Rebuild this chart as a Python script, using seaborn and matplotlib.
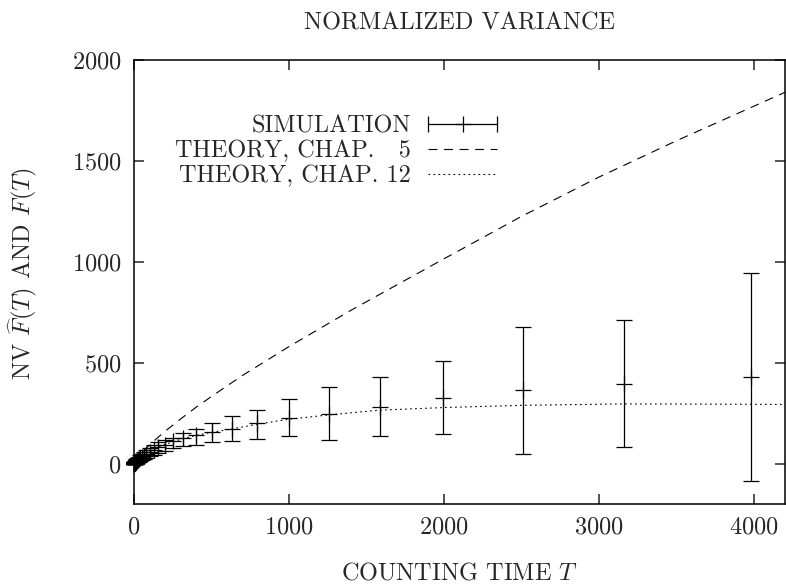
import numpy as np
import matplotlib
matplotlib.use("Agg")
import matplotlib.pyplot as plt
import seaborn as sns
from matplotlib.lines import Line2D
from matplotlib.collections import LineCollection
from matplotlib.container import ErrorbarContainer
from matplotlib.legend_handler import HandlerErrorbar

# ---------------- data ----------------
sim_T = [1, 1.26, 1.58, 2, 2.51, 3.16, 3.98, 5.01, 6.31, 7.94,
         10, 12.6, 15.8, 20, 25.1, 31.6, 39.8, 50.1, 63.1, 79.4,
         100, 126, 158, 200, 251, 316, 398, 501, 631, 794,
         1000, 1259, 1585, 1995, 2512, 3162, 3981]
sim_mean = [0.5, 0.7, 1.0, 1.3, 1.7, 2.2, 2.8, 3.6, 4.6, 5.8,
            7.3, 9.2, 11.5, 14.5, 18, 22, 27, 33, 40, 48,
            58, 68, 80, 94, 110, 127, 144, 157, 172, 200,
            226, 247, 282, 327, 363, 396, 430]
sim_low = [-4, -4, -4, -4, -4, -4, -4, -4, -4, -3,
           -2, -1, 1, 3, 6, 9, 13, 18, 24, 30,
           38, 45, 55, 61, 77, 86, 94, 105, 112, 124,
           137, 116, 137, 145, 46, 81, -88]
sim_high = [5, 5.5, 6, 6.5, 7, 8, 10, 11, 13, 15,
            17, 19, 22, 26, 30, 35, 41, 48, 56, 66,
            78, 90, 105, 119, 127, 152, 172, 201, 234, 267,
            320, 381, 431, 510, 677, 711, 945]

ch5_T = [0, 25, 50, 100, 150, 200, 300, 400, 500, 700, 1000, 1400,
         2000, 2500, 3000, 3500, 4200]
ch5_F = [0, 30, 53, 92, 127, 160, 221, 279, 333, 437, 580, 760,
         1015, 1225, 1420, 1600, 1840]

ch12_T = [0, 10, 25, 50, 100, 150, 200, 300, 400, 500, 630, 800, 1000,
          1275, 1585, 2000, 2512, 3162, 4000, 4200]
ch12_F = [0, 8, 18, 33, 58, 78, 95, 120, 140, 155, 172, 196, 220,
          243, 265, 278, 289, 296, 294, 293]

x_ticks = [0, 1000, 2000, 3000, 4000]
y_ticks = [0, 500, 1000, 1500, 2000]

title = "NORMALIZED VARIANCE"
x_label = r"COUNTING TIME $T$"
y_label = r"NV $\widehat{F}(T)$ AND $F(T)$"
lab_sim = "SIMULATION"
lab_ch5 = "THEORY, CHAP.   5"
lab_ch12 = "THEORY, CHAP. 12"

# ---------------- style ----------------
sns.set_theme(style="ticks")
plt.rcParams["font.family"] = ["cmr10", "DejaVu Serif"]
plt.rcParams["mathtext.fontset"] = "cm"
plt.rcParams["axes.unicode_minus"] = False
plt.rcParams["axes.formatter.use_mathtext"] = True
FS = 17.5

fig = plt.figure(figsize=(7.86, 5.84), dpi=100)
ax = fig.add_axes([134 / 786, 80 / 584, 651 / 786, 444 / 584])

# theory curves
sns.lineplot(x=ch5_T, y=ch5_F, ax=ax, color="black", linewidth=0.8,
             linestyle=(0, (8, 6)), sort=False, estimator=None)
sns.lineplot(x=ch12_T, y=ch12_F, ax=ax, color="black", linewidth=0.8,
             linestyle=(0, (1.5, 3)), sort=False, estimator=None)

# simulation with error bars
m = np.array(sim_mean)
yerr = [m - np.array(sim_low), np.array(sim_high) - m]
ax.errorbar(sim_T, sim_mean, yerr=yerr, fmt="+", color="black", ms=11,
            mew=0.9, elinewidth=0.9, capsize=5.8, capthick=0.9,
            clip_on=False, zorder=3)

ax.set_xlim(0, 4200)
ax.set_ylim(-200, 2000)
ax.set_xticks(x_ticks)
ax.set_yticks(y_ticks)
ax.tick_params(direction="in", length=7.5, width=1.1, top=True, right=True,
               labelsize=FS, pad=9)
ax.tick_params(axis="x", pad=9)
for s in ax.spines.values():
    s.set_linewidth(1.1)
    s.set_color("black")

ax.set_title(title, fontsize=FS, pad=22)
ax.set_xlabel(x_label, fontsize=FS, labelpad=17)
ax.set_ylabel(y_label, fontsize=FS)
ax.yaxis.set_label_coords(-0.144, 0.52)

# legend (gnuplot style: text right-aligned, sample to the right)
data_line = Line2D([], [], color="black", marker="+", ms=11, mew=0.9, ls="none")
cap = Line2D([], [], color="black", marker="|", ms=11, mew=0.9)
barcol = LineCollection([], colors="black", linewidths=0.9)
sim_proxy = ErrorbarContainer((data_line, (cap, cap), (barcol,)),
                              has_xerr=True, has_yerr=False, label=lab_sim)
h5 = Line2D([], [], color="black", lw=0.8, ls=(0, (8, 6)))
h12 = Line2D([], [], color="black", lw=0.8, ls=(0, (1.5, 3)))
leg = ax.legend([sim_proxy, h5, h12], [lab_sim, lab_ch5, lab_ch12],
                loc="upper right", bbox_to_anchor=(0.558, 0.876),
                frameon=False, markerfirst=False, fontsize=FS,
                borderpad=0, borderaxespad=0, handlelength=2.85,
                handletextpad=0.7, labelspacing=0.12,
                handler_map={ErrorbarContainer: HandlerErrorbar(xerr_size=1.42)})

fig.savefig("out.png", dpi=100)
